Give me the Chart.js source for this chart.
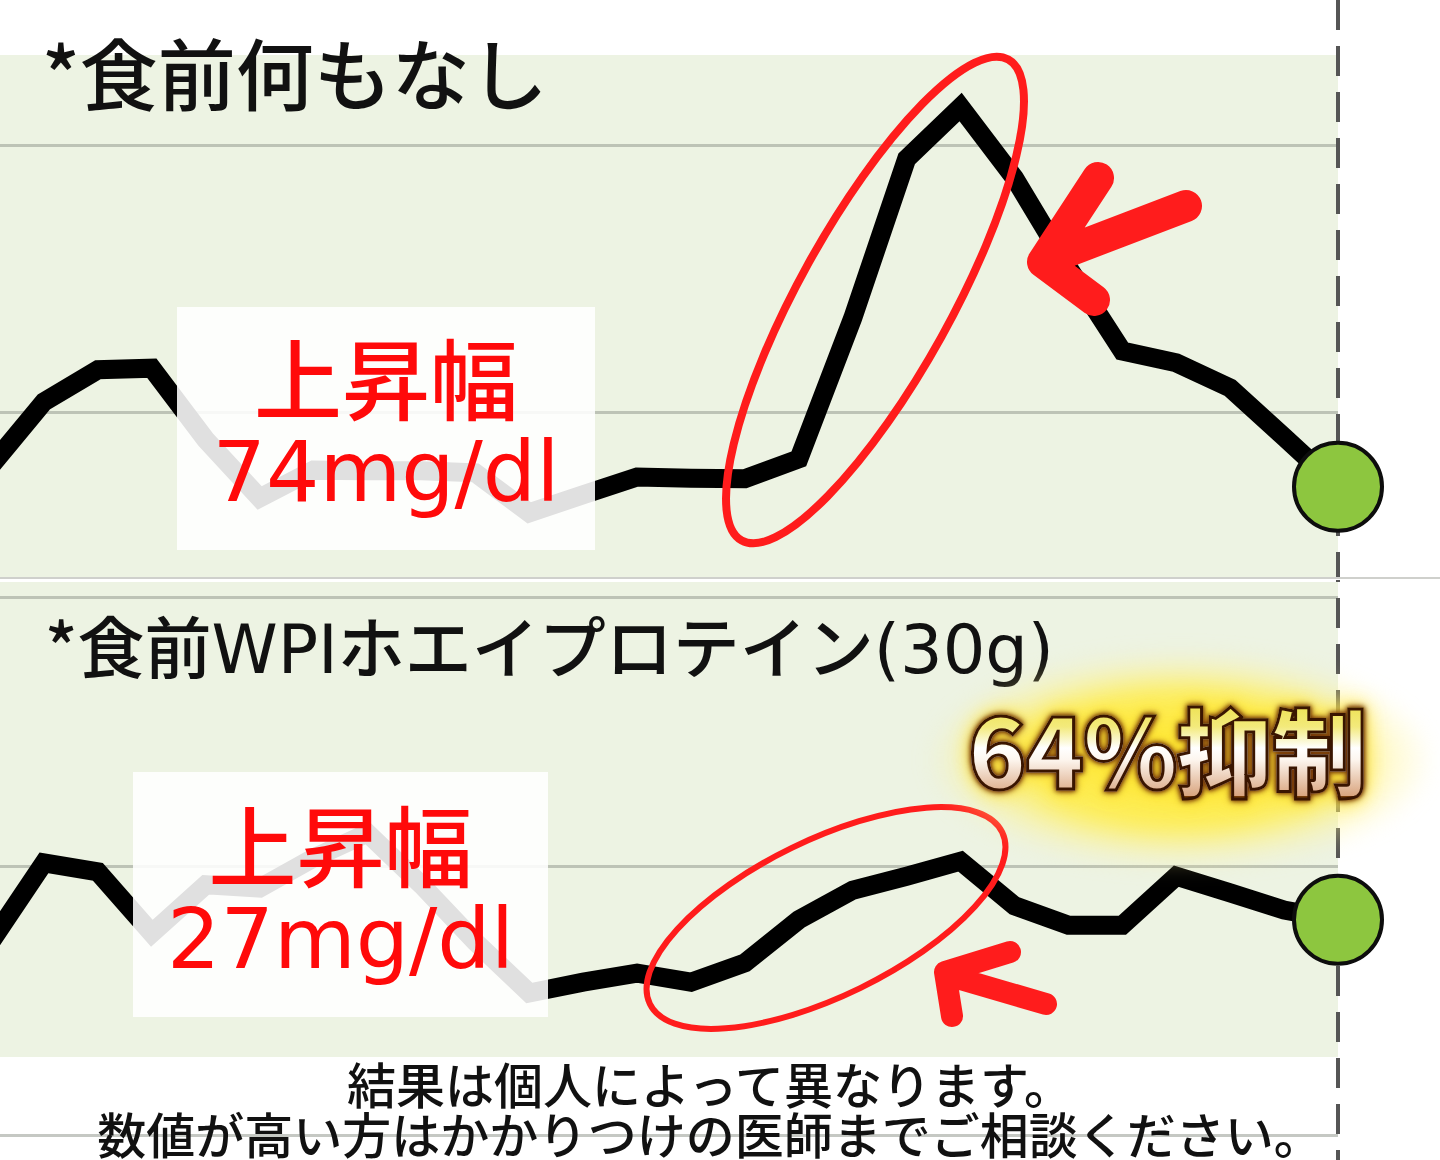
<!DOCTYPE html>
<html lang="ja">
<head>
<meta charset="utf-8">
<script src="https://cdn.jsdelivr.net/npm/chart.js@4.4.1/dist/chart.umd.min.js"></script>
<style>
  html, body { margin: 0; padding: 0; background: #fff; }
  body { width: 1440px; height: 1160px; position: relative; overflow: hidden; }
  .wrap { position: absolute; left: 0; width: 1440px; }
  .jp { font-family: "Noto Sans CJK JP", sans-serif; font-weight: 500; color: #111; position: absolute; line-height: 1; white-space: nowrap; }
  .lat { font-family: "DejaVu Sans", sans-serif; font-weight: 400; }
  .box { position: absolute; background: rgba(255,255,255,0.88); }
  .box .l1 { position: absolute; left: 0; width: 100%; text-align: center; font-family: "Noto Sans CJK JP", sans-serif; font-weight: 500; font-size: 88px; line-height: 1; color: #ff0a0a; white-space: nowrap; }
  .box .l2 { position: absolute; left: 0; width: 100%; text-align: center; font-family: "DejaVu Sans", sans-serif; font-size: 84px; line-height: 1; color: #ff0a0a; white-space: nowrap; }
  #glow { position: absolute; left: 925px; top: 650px; width: 510px; height: 220px;
          background: radial-gradient(closest-side, rgba(255,232,40,0.95) 0%, rgba(255,236,70,0.88) 58%, rgba(255,243,140,0.4) 82%, rgba(255,250,200,0) 100%);
          filter: blur(10px); }
  #sup { position: absolute; left: 968px; top: 700px; font-family: "Noto Sans CJK JP", sans-serif; font-weight: 900; font-size: 96px; line-height: 1; letter-spacing: -1px; white-space: nowrap;
         background: linear-gradient(180deg, #ece04a 0%, #f3ea7c 28%, #ffffff 50%, #fdf6ef 62%, #d9a47e 100%);
         -webkit-background-clip: text; background-clip: text; color: transparent;
         -webkit-text-stroke: 3px #3a1500;
         filter: drop-shadow(0 0 2px #6a3006) drop-shadow(0 0 3px #8a4a10) drop-shadow(0 0 10px rgba(255,225,40,0.9)); }
</style>
</head>
<body>
<div class="wrap" style="top:0;height:578px"><canvas id="chartNone"></canvas></div>
<div class="wrap" style="top:580px;height:580px"><canvas id="chartWPI"></canvas></div>
<div style="position:absolute;left:0;top:577px;width:1440px;height:2px;background:#cfd0cc"></div>

<div class="box" style="left:177px;top:307px;width:418px;height:243px">
  <div class="l1" style="top:24px">上昇幅</div>
  <div class="l2" style="top:123px">74mg/dl</div>
</div>
<div class="box" style="left:133px;top:772px;width:415px;height:245px">
  <div class="l1" style="top:26px">上昇幅</div>
  <div class="l2" style="top:125px">27mg/dl</div>
</div>

<svg width="1440" height="1160" style="position:absolute;left:0;top:0" xmlns="http://www.w3.org/2000/svg">
  <ellipse cx="875" cy="300" rx="275" ry="76" transform="rotate(-61 875 300)" fill="none" stroke="#ff1c1c" stroke-width="8"/>
  <ellipse cx="826" cy="918" rx="196" ry="78" transform="rotate(-26 826 918)" fill="none" stroke="#ff1c1c" stroke-width="6"/>
  <path d="M1098,178 L1043,262 L1094,300 M1050,258 L1186,206" fill="none" stroke="#ff1c1c" stroke-width="32" stroke-linecap="round" stroke-linejoin="round"/>
  <path d="M1010,952 L945,972 L952,1016 M950,976 L1046,1004" fill="none" stroke="#ff1c1c" stroke-width="22" stroke-linecap="round" stroke-linejoin="round"/>
</svg>

<div class="jp" style="left:42px;top:32px;font-size:78px">*食前何もなし</div>
<div class="jp" style="left:45px;top:610px;font-size:67px">*食前<span class="lat">WPI</span>ホエイプロテイン<span class="lat">(30g)</span></div>

<div id="glow"></div>
<div id="sup">64%抑制</div>

<div class="jp" style="left:0;width:1420px;text-align:center;top:1058px;font-size:49px">結果は個人によって異なります。</div>
<div class="jp" style="left:0;width:1420px;text-align:center;top:1108px;font-size:49px">数値が高い方はかかりつけの医師までご相談ください。</div>

<script>
// ---- data (minutes after start, glucose mg/dl) ----
const minutes = [-5, 0, 5, 10, 15, 20, 25, 30, 35, 40, 45, 50, 55, 60, 65, 70, 75, 80, 85, 90, 95, 100, 105, 110, 115, 120];
const glucoseNothing = [89.7, 101.9, 107.9, 108.2, 94.8, 83.9, 89.1, 89.0, 89.0, 88.6, 81.1, 84.5, 87.8, 87.6, 87.5, 91.2, 117.6, 147.4, 157.1, 143.8, 127.0, 111.4, 109.2, 104.5, 95.3, 86.0];
const glucoseWPI = [85.7, 100.6, 98.9, 87.5, 96.5, 95.9, 101.5, 106.1, 96.5, 85.9, 76.4, 78.4, 80.1, 78.4, 82.0, 90.0, 95.5, 98.1, 100.9, 92.6, 89.0, 89.0, 98.1, 95.0, 91.8, 90.0];
const gridLevels = [50, 100, 150];

const bandPlugin = {
  id: 'band',
  beforeDraw(chart, args, opts) {
    const { ctx, chartArea: a } = chart;
    ctx.save();
    ctx.fillStyle = '#edf3e3';
    ctx.fillRect(a.left, a.top, a.right - a.left, (a.bottom - opts.inset) - a.top);
    const y = chart.scales.y;
    ctx.strokeStyle = 'rgba(150,155,145,0.55)';
    ctx.lineWidth = 3;
    gridLevels.forEach(v => {
      if (v <= y.min || v >= y.max) return;
      const py = Math.round(y.getPixelForValue(v)) + 0.5;
      ctx.beginPath(); ctx.moveTo(a.left, py); ctx.lineTo(a.right, py); ctx.stroke();
    });
    ctx.restore();
  },
  beforeDatasetsDraw(chart, args, opts) {
    const { ctx } = chart;
    const x = Math.round(chart.scales.x.getPixelForValue(minutes[minutes.length - 1]));
    ctx.save();
    ctx.strokeStyle = '#555';
    ctx.lineWidth = 4;
    ctx.setLineDash([30, 16]);
    ctx.lineDashOffset = opts.dashOffset;
    ctx.beginPath(); ctx.moveTo(x, 0); ctx.lineTo(x, chart.height); ctx.stroke();
    ctx.restore();
  }
};

function makeChart(id, values, yMin, yMax, padTop, inset, dashOffset) {
  const last = values.length - 1;
  return new Chart(document.getElementById(id), {
    type: 'line',
    data: {
      datasets: [{
        data: minutes.map((m, i) => ({ x: m, y: values[i] })),
        borderColor: '#000',
        borderWidth: 19,
        borderJoinStyle: 'miter',
        tension: 0,
        clip: false,
        pointRadius: c => c.dataIndex === last ? 44 : 0,
        pointHoverRadius: c => c.dataIndex === last ? 44 : 0,
        pointBackgroundColor: '#8dc63f',
        pointBorderColor: '#0d0d0d',
        pointBorderWidth: 4
      }]
    },
    options: {
      responsive: true,
      maintainAspectRatio: false,
      animation: false,
      events: [],
      devicePixelRatio: 1,
      layout: { autoPadding: false, padding: { top: padTop, right: 102, left: 0, bottom: 0 } },
      scales: {
        x: { type: 'linear', min: -4.08, max: 120, display: false },
        y: { type: 'linear', min: yMin, max: yMax, display: false }
      },
      plugins: {
        legend: { display: false },
        tooltip: { enabled: false },
        band: { inset: inset, dashOffset: dashOffset }
      }
    },
    plugins: [bandPlugin]
  });
}

makeChart('chartNone', glucoseNothing, 68.9, 166.85, 55, 0, 0);
makeChart('chartWPI', glucoseWPI, 45.35, 152.79, 2, 103, 580);
</script>
</body>
</html>
